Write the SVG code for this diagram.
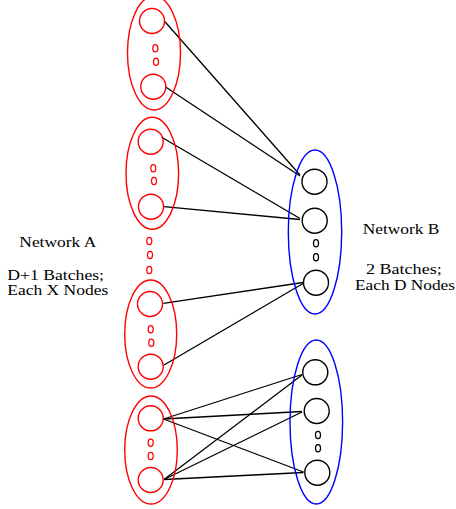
<svg xmlns="http://www.w3.org/2000/svg" width="456" height="509" viewBox="0 0 456 509">
<style>
.grpA{fill:none;stroke:#ff0000;stroke-width:1.4}
.grpB{fill:none;stroke:#0000ff;stroke-width:1.4}
.nodeA{fill:none;stroke:#ff0000;stroke-width:1.4}
.nodeB{fill:none;stroke:#000;stroke-width:1.4}
.dotA{fill:none;stroke:#ff0000;stroke-width:1.3}
.dotB{fill:none;stroke:#000;stroke-width:1.3}
.edge{stroke:#000;stroke-width:1.3;fill:none}
text{font-family:"Liberation Serif","Times New Roman",serif;font-size:15px;fill:#000}
</style>
<rect width="456" height="509" fill="#fff"/>
<g id="connectors">
<line class="edge" x1="165" y1="21.7" x2="300" y2="175"/>
<line class="edge" x1="166" y1="87.3" x2="300" y2="176"/>
<line class="edge" x1="161.7" y1="137.3" x2="300" y2="218.5"/>
<line class="edge" x1="164" y1="206.7" x2="300" y2="219.5"/>
<line class="edge" x1="163.3" y1="303.3" x2="303" y2="282.5"/>
<line class="edge" x1="164" y1="365" x2="303" y2="283.5"/>
<line class="edge" x1="163.5" y1="419" x2="302" y2="374.5"/>
<line class="edge" x1="163.5" y1="419" x2="302" y2="411.5"/>
<line class="edge" x1="163.5" y1="419" x2="303.5" y2="472"/>
<line class="edge" x1="164" y1="479.5" x2="302" y2="375"/>
<line class="edge" x1="164" y1="479.5" x2="302" y2="412"/>
<line class="edge" x1="164" y1="479.5" x2="303.5" y2="472.5"/>
</g>
<g id="networkA-batch1">
<ellipse class="grpA" cx="154" cy="53" rx="26.5" ry="57"/>
<circle class="nodeA" cx="152" cy="21" r="12.5"/>
<circle class="nodeA" cx="153.3" cy="86.7" r="12.5"/>
<ellipse class="dotA" cx="155.3" cy="48.3" rx="2.5" ry="3.6"/>
<ellipse class="dotA" cx="156" cy="61.7" rx="2.5" ry="3.6"/>
</g>
<g id="networkA-batch2">
<ellipse class="grpA" cx="152.3" cy="173.3" rx="26.3" ry="56"/>
<circle class="nodeA" cx="150.7" cy="141.7" r="12.5"/>
<circle class="nodeA" cx="151" cy="206.7" r="12.5"/>
<ellipse class="dotA" cx="153.3" cy="168.3" rx="2.5" ry="3.6"/>
<ellipse class="dotA" cx="154" cy="181" rx="2.5" ry="3.6"/>
</g>
<g id="networkA-gap">
<ellipse class="dotA" cx="149.3" cy="241" rx="2.5" ry="3.6"/>
<ellipse class="dotA" cx="150" cy="255" rx="2.5" ry="3.6"/>
<ellipse class="dotA" cx="149.3" cy="270" rx="2.5" ry="3.6"/>
</g>
<g id="networkA-batch3">
<ellipse class="grpA" cx="150.7" cy="334" rx="26" ry="54"/>
<circle class="nodeA" cx="150" cy="304" r="12.5"/>
<circle class="nodeA" cx="150.7" cy="366.7" r="12.5"/>
<ellipse class="dotA" cx="150.7" cy="329.3" rx="2.5" ry="3.6"/>
<ellipse class="dotA" cx="151.3" cy="342.7" rx="2.5" ry="3.6"/>
</g>
<g id="networkA-batch4">
<ellipse class="grpA" cx="151" cy="450" rx="26.3" ry="54"/>
<circle class="nodeA" cx="150.7" cy="418.3" r="12.5"/>
<circle class="nodeA" cx="150.7" cy="480" r="12.5"/>
<ellipse class="dotA" cx="150.7" cy="442.7" rx="2.5" ry="3.6"/>
<ellipse class="dotA" cx="150.7" cy="456" rx="2.5" ry="3.6"/>
</g>
<g id="networkB-batch1">
<ellipse class="grpB" cx="315" cy="232" rx="26.7" ry="82"/>
<circle class="nodeB" cx="314.5" cy="181.7" r="12.5"/>
<circle class="nodeB" cx="314.7" cy="220.7" r="12.5"/>
<circle class="nodeB" cx="316" cy="282.7" r="12.5"/>
<ellipse class="dotB" cx="316" cy="243.3" rx="2.5" ry="3.6"/>
<ellipse class="dotB" cx="316" cy="257.3" rx="2.5" ry="3.6"/>
</g>
<g id="networkB-batch2">
<ellipse class="grpB" cx="316.3" cy="422" rx="26.3" ry="82"/>
<circle class="nodeB" cx="315.3" cy="372.3" r="12.5"/>
<circle class="nodeB" cx="316.7" cy="411" r="12.5"/>
<circle class="nodeB" cx="317.3" cy="472.7" r="12.5"/>
<ellipse class="dotB" cx="318" cy="435" rx="2.5" ry="3.6"/>
<ellipse class="dotB" cx="318" cy="448.3" rx="2.5" ry="3.6"/>
</g>
<g id="labelA">
<text x="19.3" y="247" textLength="77" lengthAdjust="spacingAndGlyphs">Network A</text>
<text x="7.3" y="279.5" textLength="96.7" lengthAdjust="spacingAndGlyphs">D+1 Batches;</text>
<text x="7.3" y="295" textLength="101" lengthAdjust="spacingAndGlyphs">Each X Nodes</text>
</g>
<g id="labelB">
<text x="362.7" y="234" textLength="76.7" lengthAdjust="spacingAndGlyphs">Network B</text>
<text x="366" y="274" textLength="75.7" lengthAdjust="spacingAndGlyphs">2 Batches;</text>
<text x="355" y="290" textLength="100" lengthAdjust="spacingAndGlyphs">Each D Nodes</text>
</g>
</svg>
